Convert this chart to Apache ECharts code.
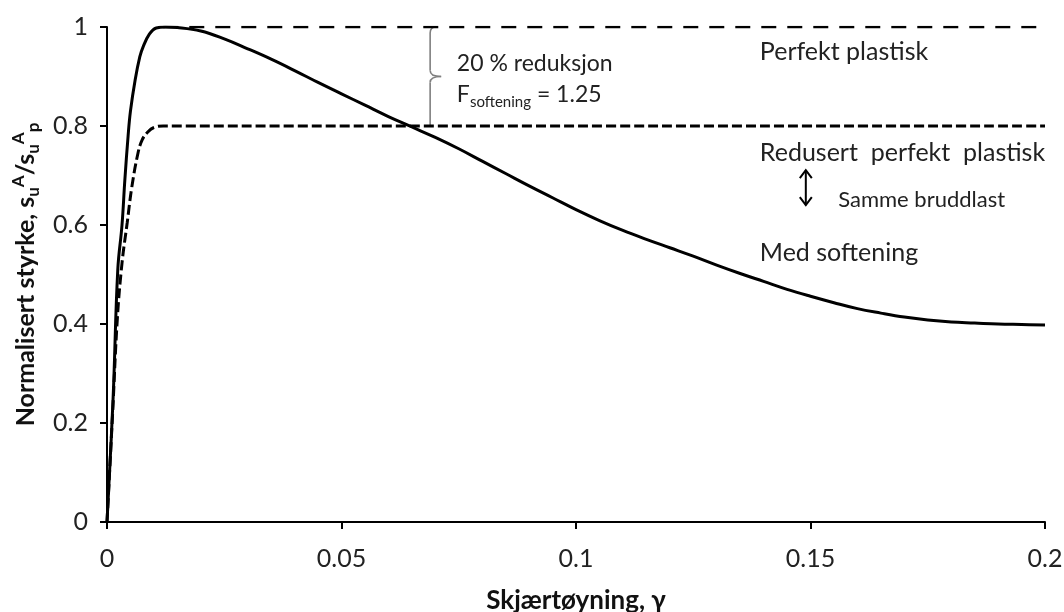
<!DOCTYPE html>
<html>
<head>
<meta charset="utf-8">
<script src="https://cdn.jsdelivr.net/npm/echarts@6/dist/echarts.min.js"></script>
<style>html,body{margin:0;padding:0;background:#fff;}#c{width:1064px;height:612px;}</style>
</head>
<body>
<div id="c"></div>
<script>
// ---- data ----
const softeningGamma = [0, 0.0013, 0.0023, 0.0032, 0.0038, 0.0045, 0.0050, 0.0060, 0.0070, 0.0077, 0.0090, 0.0105, 0.0125, 0.0150, 0.020, 0.025, 0.030, 0.035, 0.040, 0.045, 0.050, 0.055, 0.060, 0.065, 0.070, 0.075, 0.080, 0.085, 0.090, 0.095, 0.100, 0.105, 0.110, 0.115, 0.120, 0.125, 0.130, 0.135, 0.140, 0.145, 0.150, 0.155, 0.160, 0.165, 0.170, 0.175, 0.180, 0.185, 0.190, 0.195, 0.200];
const softeningStrength = [0, 0.25, 0.51, 0.60, 0.69, 0.78, 0.83, 0.893, 0.94, 0.96, 0.985, 0.998, 1.0, 0.999, 0.992, 0.976, 0.956, 0.935, 0.912, 0.888, 0.865, 0.842, 0.819, 0.798, 0.777, 0.754, 0.729, 0.704, 0.679, 0.655, 0.631, 0.609, 0.589, 0.571, 0.554, 0.537, 0.519, 0.502, 0.486, 0.470, 0.456, 0.443, 0.431, 0.422, 0.414, 0.408, 0.404, 0.402, 0.400, 0.399, 0.398];
const reducedGamma = [0, 0.0012, 0.0022, 0.0032, 0.0043, 0.0053, 0.0066, 0.0075, 0.0087, 0.0100, 0.0120, 0.200];
const reducedStrength = [0, 0.22, 0.41, 0.523, 0.604, 0.677, 0.745, 0.772, 0.788, 0.797, 0.800, 0.800];
const perfectGamma = [0.012, 0.200];
const perfectStrength = [1.0, 1.0];
const xTicks = [0, 0.05, 0.1, 0.15, 0.2];
const yTicks = [0, 0.2, 0.4, 0.6, 0.8, 1];
// annotation anchors (data coords)
const braceAnchor = { x: 0.0689, top: 1.0, bottom: 0.8 };
const arrowAnchor = { x: 0.149, top: 0.711, bottom: 0.640 };
const labels = [
  { x: 0.0746, y: 0.927, text: '20 % reduksjon', style: 'ann' },
  { x: 0.0746, y: 0.863, text: '{ann|F}{annsub|softening}{ann| = 1.25}', style: 'ann', rich: true },
  { x: 0.1392, y: 0.949, text: 'Perfekt plastisk', style: 'big' },
  { x: 0.1392, y: 0.745, text: 'Redusert  perfekt  plastisk', style: 'big' },
  { x: 0.1559, y: 0.650, text: 'Samme bruddlast', style: 'small' },
  { x: 0.1392, y: 0.543, text: 'Med softening', style: 'big' }
];

const FONT = 'Lato, "Open Sans", sans-serif';
const TXT = '#222';
const pairs = (xs, ys) => xs.map((x, i) => [x, ys[i]]);

const chart = echarts.init(document.getElementById('c'), null, { renderer: 'canvas' });
const option = {
  animation: false,
  backgroundColor: '#fff',
  grid: { left: 107, right: 19, top: 27, bottom: 90, containLabel: false, outerBoundsMode: 'none' },
  xAxis: {
    type: 'value', min: 0, max: 0.2, interval: 0.05,
    name: 'Skjærtøyning, γ', nameLocation: 'middle', nameGap: 66,
    nameTextStyle: { fontFamily: FONT, fontSize: 26, fontWeight: 'bold', color: '#111' },
    axisLine: { show: true, onZero: false, lineStyle: { color: '#000', width: 2 } },
    axisTick: { show: true, inside: false, length: 7, lineStyle: { color: '#000', width: 2 } },
    axisLabel: { margin: 24, fontFamily: FONT, fontSize: 25, color: TXT,
      formatter: v => { const t = xTicks.find(a => Math.abs(a - v) < 1e-9); return t === undefined ? '' : String(t); } },
    splitLine: { show: false }
  },
  yAxis: {
    type: 'value', min: 0, max: 1, interval: 0.2,
    name: '{b|Normalisert styrke, s}{sub|u}{sup|A}{b|/s}{sub|u}{sup|A}{sub|p}',
    nameLocation: 'middle', nameGap: 64,
    nameTextStyle: {
      fontFamily: FONT, fontSize: 25, fontWeight: 'bold', color: '#111', lineHeight: 32,
      rich: {
        b: { fontFamily: FONT, fontSize: 25, fontWeight: 'bold', color: '#111', lineHeight: 32 },
        sub: { fontFamily: FONT, fontSize: 17, fontWeight: 'bold', color: '#111', verticalAlign: 'bottom', lineHeight: 32 },
        sup: { fontFamily: FONT, fontSize: 17, fontWeight: 'bold', color: '#111', verticalAlign: 'top', lineHeight: 32 }
      }
    },
    axisLine: { show: true, lineStyle: { color: '#000', width: 2 } },
    axisTick: { show: true, inside: false, length: 7, lineStyle: { color: '#000', width: 2 } },
    axisLabel: { margin: 19, fontFamily: FONT, fontSize: 25, color: TXT,
      formatter: v => { const t = yTicks.find(a => Math.abs(a - v) < 1e-9); return t === undefined ? '' : String(t); } },
    splitLine: { show: false }
  },
  series: [
    { name: 'Perfekt plastisk', type: 'line', data: pairs(perfectGamma, perfectStrength), symbol: 'none',
      lineStyle: { color: '#000', width: 2.5, type: [15, 11] }, z: 2 },
    { name: 'Redusert perfekt plastisk', type: 'line', data: pairs(reducedGamma, reducedStrength), symbol: 'none',
      smooth: 0.4, lineStyle: { color: '#000', width: 3, type: [10, 4] }, z: 3 },
    { name: 'Med softening', type: 'line', data: pairs(softeningGamma, softeningStrength), symbol: 'none',
      smooth: 0.4, lineStyle: { color: '#000', width: 3 }, z: 4 }
  ]
};
chart.setOption(option);

function px(x, y) { return chart.convertToPixel({ gridIndex: 0 }, [x, y]); }

const graphics = [];
const braceStyle = { fill: null, stroke: '#7f7f7f', lineWidth: 1.6 };
{
  const t = px(braceAnchor.x, braceAnchor.top);
  const b = px(braceAnchor.x, braceAnchor.bottom);
  const m = (t[1] + b[1]) / 2;
  const x = t[0];
  graphics.push({ type: 'bezierCurve', shape: { x1: x + 6, y1: t[1], cpx1: x, cpy1: t[1], x2: x, y2: t[1] + 6 }, style: braceStyle });
  graphics.push({ type: 'line', shape: { x1: x, y1: t[1] + 6, x2: x, y2: m - 6 }, style: braceStyle });
  graphics.push({ type: 'bezierCurve', shape: { x1: x, y1: m - 6, cpx1: x, cpy1: m, x2: x + 11, y2: m }, style: braceStyle });
  graphics.push({ type: 'bezierCurve', shape: { x1: x + 11, y1: m, cpx1: x, cpy1: m, x2: x, y2: m + 6 }, style: braceStyle });
  graphics.push({ type: 'line', shape: { x1: x, y1: m + 6, x2: x, y2: b[1] }, style: braceStyle });
}
{
  const t = px(arrowAnchor.x, arrowAnchor.top);
  const b = px(arrowAnchor.x, arrowAnchor.bottom);
  const x = t[0];
  const st = { fill: null, stroke: '#000', lineWidth: 2 };
  graphics.push({ type: 'line', shape: { x1: x, y1: t[1], x2: x, y2: b[1] }, style: st });
  graphics.push({ type: 'polyline', shape: { points: [[x - 6, t[1] + 8], [x, t[1]], [x + 6, t[1] + 8]] }, style: st });
  graphics.push({ type: 'polyline', shape: { points: [[x - 6, b[1] - 8], [x, b[1]], [x + 6, b[1] - 8]] }, style: st });
}
const sizes = { ann: 23, big: 25, small: 22 };
labels.forEach(l => {
  const p = px(l.x, l.y);
  const fs = sizes[l.style];
  const style = {
    text: l.text, font: fs + 'px ' + FONT, fontFamily: FONT, fontSize: fs, fill: TXT,
    align: 'left', verticalAlign: 'middle'
  };
  if (l.rich) {
    style.rich = {
      ann: { fontFamily: FONT, fontSize: 23, fill: TXT, lineHeight: 30 },
      annsub: { fontFamily: FONT, fontSize: 15, fill: TXT, verticalAlign: 'bottom', lineHeight: 30 }
    };
  }
  graphics.push({ type: 'text', x: p[0], y: p[1], style });
});
chart.setOption({ graphic: graphics });
</script>
</body>
</html>
